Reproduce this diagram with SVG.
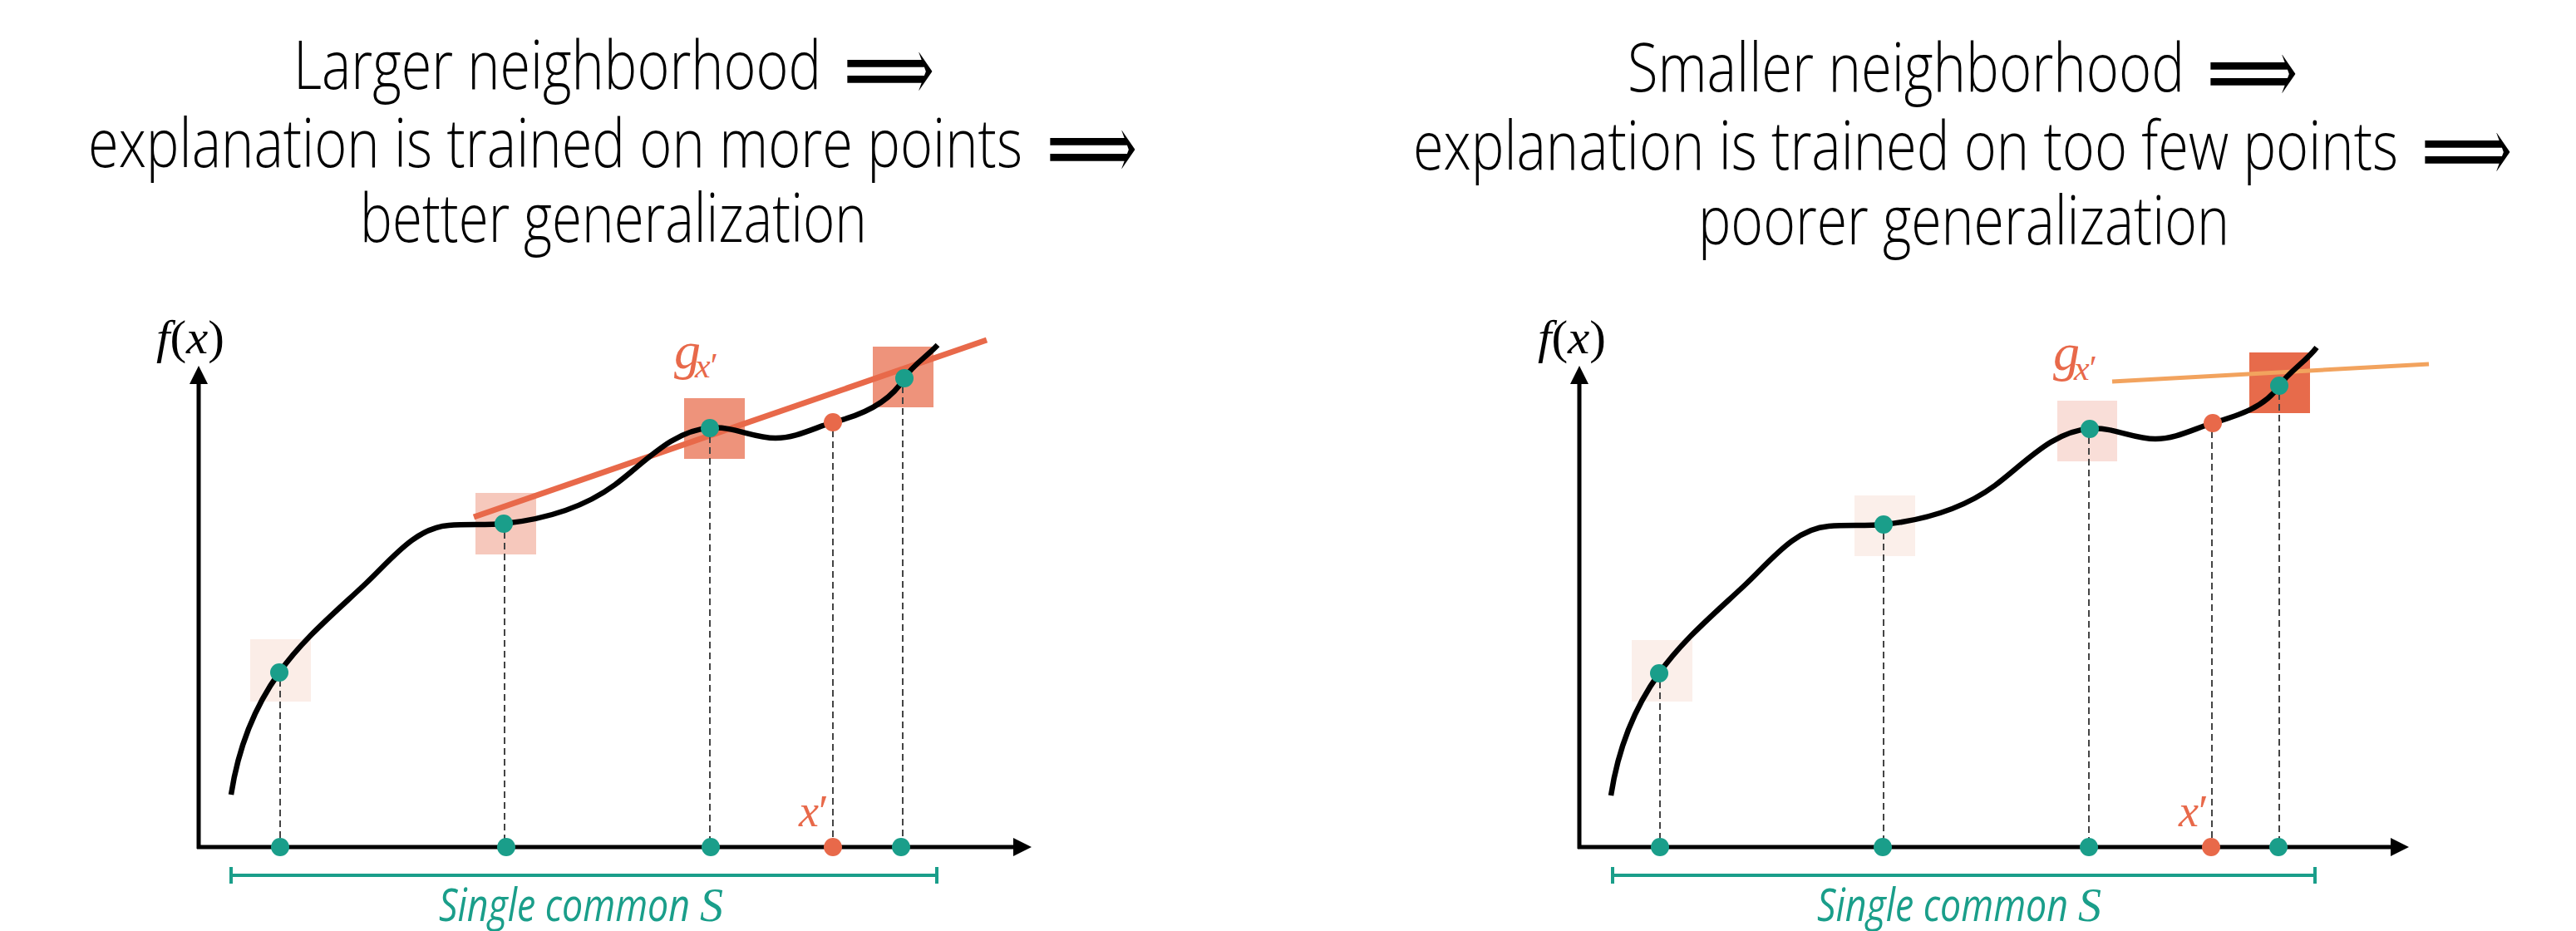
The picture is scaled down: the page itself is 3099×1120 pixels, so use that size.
<svg xmlns="http://www.w3.org/2000/svg" width="3099" height="1120" viewBox="0 0 3099 1120">
<defs>
<style>
.title{font-family:"Open Sans","DejaVu Sans",sans-serif;font-size:82px;font-weight:300;fill:#000}
.arr{font-family:"DejaVu Serif",serif;font-size:83px;fill:#000}
.math{font-family:"Liberation Serif",serif;font-style:italic}
.axis{stroke:#000;stroke-width:5;fill:none}
.curve{stroke:#000;stroke-width:6.5;fill:none;stroke-linecap:butt}
.dash{stroke:#444;stroke-width:2;stroke-dasharray:8 5;fill:none}
.teal{fill:#1A9E8A}
.org{fill:#E8694A}
.br{stroke:#1A9E8A;stroke-width:4;fill:none}
.lbl{font-family:"Open Sans",sans-serif;font-style:italic;font-size:54px;font-weight:400;fill:#1A9E8A}
</style>
<marker id="ah" viewBox="0 0 20 20" refX="0" refY="10" markerWidth="22" markerHeight="22" markerUnits="userSpaceOnUse" orient="auto"><path d="M0,0 L20,10 L0,20 z" fill="#000"/></marker>
</defs>
<rect width="3099" height="1120" fill="#fff"/>

<g id="title-left">
<text class="title" x="353" y="107" textLength="635" lengthAdjust="spacingAndGlyphs">Larger neighborhood</text>
<text class="arr" transform="translate(1015,87) scale(1,1.35)" x="0" y="25.7" textLength="109" lengthAdjust="spacingAndGlyphs">⟹</text>
<text class="title" x="106" y="201" textLength="1124" lengthAdjust="spacingAndGlyphs">explanation is trained on more points</text>
<text class="arr" transform="translate(1259,181) scale(1,1.35)" x="0" y="25.7" textLength="109" lengthAdjust="spacingAndGlyphs">⟹</text>
<text class="title" x="433" y="291" textLength="610" lengthAdjust="spacingAndGlyphs">better generalization</text>
</g>

<g id="title-right">
<text class="title" x="1958" y="110" textLength="670" lengthAdjust="spacingAndGlyphs">Smaller neighborhood</text>
<text class="arr" transform="translate(2655,90) scale(1,1.35)" x="0" y="25.7" textLength="109" lengthAdjust="spacingAndGlyphs">⟹</text>
<text class="title" x="1700" y="204" textLength="1185" lengthAdjust="spacingAndGlyphs">explanation is trained on too few points</text>
<text class="arr" transform="translate(2913,184) scale(1,1.35)" x="0" y="25.7" textLength="109" lengthAdjust="spacingAndGlyphs">⟹</text>
<text class="title" x="2043" y="294" textLength="639" lengthAdjust="spacingAndGlyphs">poorer generalization</text>
</g>

<g id="panel-left">
<g id="squares-left">
<rect x="301" y="769" width="73" height="75" fill="#FBEDE7"/>
<rect x="572" y="593" width="73" height="74" fill="#F6C8BC"/>
<rect x="823" y="479" width="73" height="73" fill="#EE937B"/>
<rect x="1050" y="417" width="73" height="73" fill="#EE937B"/>
</g>
<line id="g-left" x1="570" y1="622" x2="1187" y2="409" stroke="#E8694A" stroke-width="7"/>
<g id="connectors-left">
<line class="dash" x1="337" y1="818" x2="337" y2="1019"/>
<line class="dash" x1="607" y1="640" x2="607" y2="1019"/>
<line class="dash" x1="854" y1="525" x2="854" y2="1019"/>
<line class="dash" x1="1002" y1="518" x2="1002" y2="1019"/>
<line class="dash" x1="1086" y1="465" x2="1086" y2="1019"/>
</g>
<line class="axis" x1="239" y1="1021" x2="239" y2="462" marker-end="url(#ah)"/>
<line class="axis" x1="237" y1="1019" x2="1219" y2="1019" marker-end="url(#ah)"/>
<path class="curve" d="M278 956 C286 904,305 852,336 809 C365 768,404 736,440 702 C470 674,499 635,540 632 C562 630,584 632,606 630 C653 625,702 611,740 583 C775 557,810 517,854 515 C881 512,906 527,933 527 C957 527,979 515,1002 508 C1035 500,1070 485,1088 455 C1098 439,1115 429,1128 415"/>
<g id="dots-left">
<circle class="teal" cx="336" cy="809" r="11"/>
<circle class="teal" cx="606" cy="630" r="11"/>
<circle class="teal" cx="854" cy="515" r="11"/>
<circle class="org" cx="1002" cy="508" r="11"/>
<circle class="teal" cx="1088" cy="455" r="11"/>
<circle class="teal" cx="337" cy="1019" r="11"/>
<circle class="teal" cx="609" cy="1019" r="11"/>
<circle class="teal" cx="855" cy="1019" r="11"/>
<circle class="org" cx="1002" cy="1019" r="11"/>
<circle class="teal" cx="1084" cy="1019" r="11"/>
</g>
<text class="math" x="188" y="425" font-size="58" textLength="82" lengthAdjust="spacingAndGlyphs">f<tspan font-style="normal">(</tspan>x<tspan font-style="normal">)</tspan></text>
<text class="math" x="811" y="443" font-size="64" fill="#E8694A">g</text>
<text class="math" x="836" y="454" font-size="42" fill="#E8694A">x<tspan font-style="normal">′</tspan></text>
<text class="math" x="961" y="994" font-size="54" fill="#E8694A">x<tspan font-style="normal">′</tspan></text>
<path class="br" d="M278 1043 V1063 M278 1053 H1127 M1127 1043 V1063"/>
<text class="lbl" x="528" y="1108" textLength="302" lengthAdjust="spacingAndGlyphs">Single common</text>
<text class="math" x="842" y="1108" font-size="56" fill="#1A9E8A">S</text>
</g>

<g id="panel-right">
<g id="squares-right">
<rect x="1963" y="770" width="73" height="74" fill="#FBEFEA"/>
<rect x="2231" y="596" width="73" height="73" fill="#FBEFEA"/>
<rect x="2475" y="482" width="72" height="73" fill="#F9DED8"/>
<rect x="2706" y="424" width="73" height="73" fill="#E76B4B"/>
</g>
<line id="g-right" x1="2541" y1="459" x2="2922" y2="438" stroke="#F2A35E" stroke-width="5"/>
<g id="connectors-right">
<line class="dash" x1="1997" y1="820" x2="1997" y2="1019"/>
<line class="dash" x1="2266" y1="641" x2="2266" y2="1019"/>
<line class="dash" x1="2513" y1="526" x2="2513" y2="1019"/>
<line class="dash" x1="2661" y1="519" x2="2661" y2="1019"/>
<line class="dash" x1="2742" y1="473" x2="2742" y2="1019"/>
</g>
<line class="axis" x1="1900" y1="1021" x2="1900" y2="462" marker-end="url(#ah)"/>
<line class="axis" x1="1898" y1="1019" x2="2876" y2="1019" marker-end="url(#ah)"/>
<path class="curve" transform="translate(1660,1)" d="M278 956 C286 904,305 852,336 809 C365 768,404 736,440 702 C470 674,499 635,540 632 C562 630,584 632,606 630 C653 625,702 611,740 583 C775 557,810 517,854 515 C881 512,906 527,933 527 C957 527,979 515,1002 508 C1032 499,1065 489,1082 463 C1094 446,1115 433,1127 417"/>
<g id="dots-right">
<circle class="teal" cx="1996" cy="810" r="11"/>
<circle class="teal" cx="2266" cy="631" r="11"/>
<circle class="teal" cx="2514" cy="516" r="11"/>
<circle class="org" cx="2662" cy="509" r="11"/>
<circle class="teal" cx="2742" cy="464" r="11"/>
<circle class="teal" cx="1997" cy="1019" r="11"/>
<circle class="teal" cx="2265" cy="1019" r="11"/>
<circle class="teal" cx="2513" cy="1019" r="11"/>
<circle class="org" cx="2660" cy="1019" r="11"/>
<circle class="teal" cx="2741" cy="1019" r="11"/>
</g>
<text class="math" x="1850" y="425" font-size="58" textLength="82" lengthAdjust="spacingAndGlyphs">f<tspan font-style="normal">(</tspan>x<tspan font-style="normal">)</tspan></text>
<text class="math" x="2470" y="445" font-size="64" fill="#E8694A">g</text>
<text class="math" x="2495" y="457" font-size="42" fill="#E8694A">x<tspan font-style="normal">′</tspan></text>
<text class="math" x="2621" y="994" font-size="54" fill="#E8694A">x<tspan font-style="normal">′</tspan></text>
<path class="br" d="M1940 1043 V1063 M1940 1053 H2785 M2785 1043 V1063"/>
<text class="lbl" x="2186" y="1108" textLength="302" lengthAdjust="spacingAndGlyphs">Single common</text>
<text class="math" x="2500" y="1108" font-size="56" fill="#1A9E8A">S</text>
</g>
</svg>
